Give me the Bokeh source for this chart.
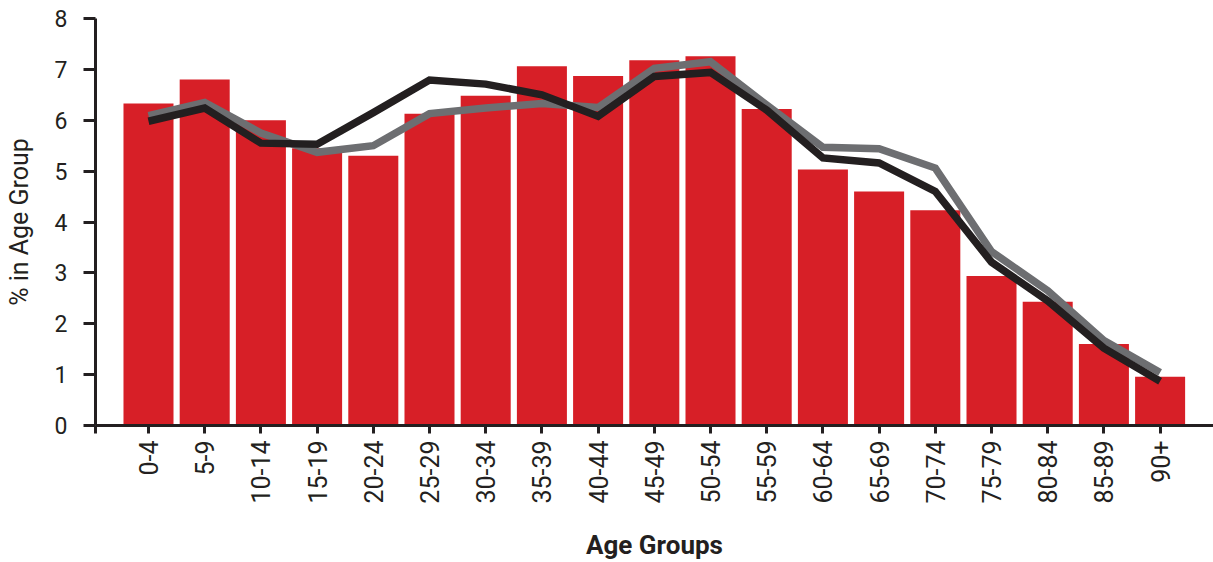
import math
from bokeh.plotting import figure
from bokeh.models import FixedTicker, Range1d, ColumnDataSource
from bokeh.embed import file_html
from bokeh.resources import INLINE

age_groups = ["0-4", "5-9", "10-14", "15-19", "20-24", "25-29", "30-34", "35-39",
              "40-44", "45-49", "50-54", "55-59", "60-64", "65-69", "70-74",
              "75-79", "80-84", "85-89", "90+"]
bar_values = [6.33, 6.80, 6.00, 5.45, 5.30, 6.13, 6.48, 7.06, 6.87, 7.18, 7.26,
              6.22, 5.03, 4.60, 4.23, 2.94, 2.43, 1.60, 0.96]
gray_values = [6.09, 6.35, 5.75, 5.37, 5.50, 6.13, 6.24, 6.33, 6.25, 7.02, 7.15,
               6.30, 5.47, 5.44, 5.06, 3.42, 2.65, 1.67, 1.04]
black_values = [5.98, 6.24, 5.55, 5.53, 6.15, 6.79, 6.71, 6.50, 6.08, 6.86, 6.94,
                6.20, 5.26, 5.16, 4.60, 3.21, 2.45, 1.52, 0.87]
y_ticks = [0, 1, 2, 3, 4, 5, 6, 7, 8]

TEXT = "#231F20"
FONT = "Roboto"

xs = list(range(len(age_groups)))
src = ColumnDataSource(dict(x=xs, bar=bar_values, gray=gray_values, black=black_values))

x_start = -0.943
p = figure(width=1213, height=562, output_backend="svg", toolbar_location=None,
           x_range=Range1d(x_start, 18.95), y_range=Range1d(0, 8),
           min_border_left=95, min_border_right=0, min_border_top=18,
           min_border_bottom=134)
p.outline_line_color = None
p.grid.visible = False
p.background_fill_color = "white"
p.border_fill_color = "white"

p.vbar(x="x", top="bar", bottom=0, width=0.89, source=src,
       fill_color="#D71F27", line_color=None)
p.line(x="x", y="gray", source=src, line_color="#6D6E71", line_width=7.5,
       line_join="miter", line_cap="butt")
p.line(x="x", y="black", source=src, line_color="#231F20", line_width=7.5,
       line_join="miter", line_cap="butt")

xa = p.xaxis[0]
xa.ticker = FixedTicker(ticks=[x_start] + xs)
overrides = {i: lab for i, lab in zip(xs, age_groups)}
overrides[x_start] = ""
xa.major_label_overrides = overrides
xa.major_label_orientation = math.pi / 2
xa.major_tick_out = 8
xa.major_tick_in = 0
xa.minor_tick_line_color = None
xa.axis_line_width = 3
xa.major_tick_line_width = 3
xa.axis_line_color = TEXT
xa.major_tick_line_color = TEXT
xa.major_label_text_font = FONT
xa.major_label_text_font_size = "25px"
xa.major_label_text_color = TEXT
xa.major_label_standoff = 7
xa.axis_label = "Age Groups"
xa.axis_label_text_font = FONT
xa.axis_label_text_font_size = "26px"
xa.axis_label_text_font_style = "bold"
xa.axis_label_text_color = TEXT
xa.axis_label_standoff = 23

ya = p.yaxis[0]
ya.ticker = FixedTicker(ticks=y_ticks)
ya.major_tick_out = 12
ya.major_tick_in = 0
ya.minor_tick_line_color = None
ya.axis_line_width = 3
ya.major_tick_line_width = 3
ya.axis_line_color = TEXT
ya.major_tick_line_color = TEXT
ya.major_label_text_font = FONT
ya.major_label_text_font_size = "23px"
ya.major_label_text_color = TEXT
ya.major_label_standoff = 16
ya.axis_label = "% in Age Group"
ya.axis_label_text_font = FONT
ya.axis_label_text_font_size = "25px"
ya.axis_label_text_font_style = "normal"
ya.axis_label_text_color = TEXT
ya.axis_label_standoff = 18

open("out.html", "w").write(file_html(p, INLINE))
